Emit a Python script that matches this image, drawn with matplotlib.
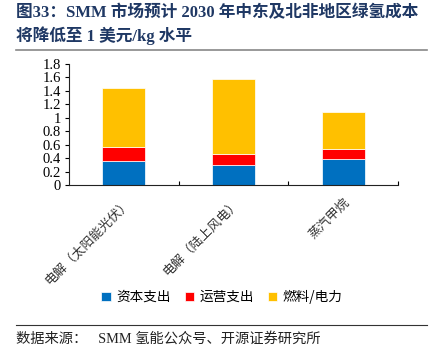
import matplotlib
matplotlib.use("Agg")
import matplotlib.pyplot as plt
import numpy as np

categories = ["电解（太阳能光伏）", "电解（陆上风电）", "蒸汽甲烷"]
capex = [0.36, 0.30, 0.38]
opex = [0.21, 0.16, 0.16]
fuel = [0.87, 1.12, 0.54]
series_names = ["资本支出", "运营支出", "燃料/电力"]
colors = ["#0070C0", "#FF0000", "#FFC000"]
yticks = [0, 0.2, 0.4, 0.6, 0.8, 1, 1.2, 1.4, 1.6, 1.8]
ytick_labels = ["0", "0.2", "0.4", "0.6", "0.8", "1", "1.2", "1.4", "1.6", "1.8"]

serif = ["Liberation Serif", "Noto Sans CJK SC"]
cjk = ["Noto Sans CJK SC", "DejaVu Sans"]

fig = plt.figure(figsize=(4.48, 3.62), dpi=100)
ax = fig.add_axes([69/448, 1-185/362, (398-69)/448, (185-64)/362])

x = np.arange(len(categories))
w = 0.39
b1 = ax.bar(x, capex, w, color=colors[0], edgecolor="white", linewidth=0.5, label=series_names[0])
b2 = ax.bar(x, opex, w, bottom=capex, color=colors[1], edgecolor="white", linewidth=0.5, label=series_names[1])
bot = np.array(capex) + np.array(opex)
b3 = ax.bar(x, fuel, w, bottom=bot, color=colors[2], edgecolor="white", linewidth=0.5, label=series_names[2])

ax.set_xlim(-0.5, 2.5)
ax.set_ylim(0, 1.8)
ax.set_yticks(yticks)
ax.set_yticklabels(ytick_labels, fontfamily=serif, fontsize=10.5)
ax.tick_params(axis="y", direction="out", length=3, width=0.8, pad=3)
ax.set_xticks(x)
ax.set_xticklabels(categories, rotation=45, ha="right", rotation_mode="anchor",
                   fontfamily=cjk, fontsize=9.3, color="#333333")
ax.tick_params(axis="x", length=0, pad=8)
ax.set_xticks([0.5, 1.5, 2.5], minor=True)
ax.tick_params(axis="x", which="minor", direction="in", length=3, width=0.8)
for s in ["top", "right"]:
    ax.spines[s].set_visible(False)
for s in ["left", "bottom"]:
    ax.spines[s].set_linewidth(0.8)
    ax.spines[s].set_color("#222222")

leg = fig.legend(handles=[b1, b2, b3], labels=series_names, loc="center",
                 bbox_to_anchor=(222/448, 1-297/362), ncol=3, frameon=False,
                 prop={"family": cjk, "size": 9.8}, handlelength=0.7, handleheight=0.7,
                 columnspacing=1.0, handletextpad=0.4)

title_color = "#1F3864"
fig.text(16/448, 1-13/362, "图33：SMM 市场预计 2030 年中东及北非地区绿氢成本",
         fontfamily=serif, fontsize=12, fontweight="bold", color=title_color, va="center")
fig.text(16/448, 1-36/362, "将降低至 1 美元/kg 水平",
         fontfamily=serif, fontsize=12, fontweight="bold", color=title_color, va="center")

fig.add_artist(plt.Line2D([16/448, 427/448], [1-50/362, 1-50/362], color="#888888", linewidth=1.2))
fig.add_artist(plt.Line2D([16/448, 427/448], [1-325/362, 1-325/362], color="#333333", linewidth=0.8))
fig.text(16/448, 1-339/362, "数据来源：   SMM 氢能公众号、开源证券研究所",
         fontfamily=serif, fontsize=10.3, color="#222222", va="center")

fig.savefig("out.png", dpi=100)
